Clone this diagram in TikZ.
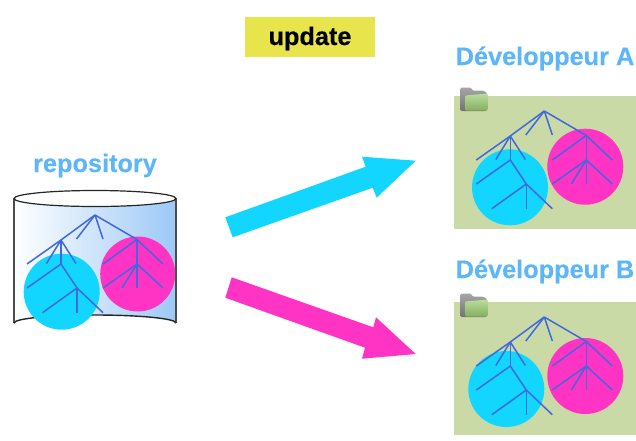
\documentclass[tikz,border=0pt]{standalone}
\usepackage{fontspec}
\setmainfont{Liberation Sans}
\definecolor{cy}{HTML}{12D6FF}
\definecolor{mg}{HTML}{FF33C4}
\definecolor{tr}{HTML}{4169DC}
\definecolor{lab}{HTML}{5DB6F7}
\definecolor{bgg}{HTML}{C9DAA6}
\definecolor{yel}{HTML}{E8E44C}
\definecolor{cylblue}{HTML}{9CC9F6}
\definecolor{fgreen}{HTML}{9CCE70}
\newcommand{\bigbold}{\fontsize{25.3}{28}\selectfont\bfseries\addfontfeature{FakeBold=0.2}}
\tikzset{
  x=1pt,y=-1pt,
  title/.style={font=\bigbold,text=lab,anchor=base,inner sep=0pt},
  branch/.style={draw=tr,line width=1.5pt},
  pane/.style={fill=bgg,draw=none},
  pics/gittree/.style={code={
    \coordinate (root) at (0,0);
    \coordinate (l) at (-34,25);
    \coordinate (r) at (42,24.5);
    \coordinate (l2) at (-34,49);
    \coordinate (l3) at (-18,73);
    \coordinate (r2) at (42,49);
    \draw[branch] (root) -- (l) -- (-68,49);
    \draw[branch] (root) -- (-18.5,24);
    \draw[branch] (root) -- (8,24);
    \draw[branch] (root) -- (r);
    \draw[branch] (l) -- (-48.5,48.5);
    \draw[branch] (l) -- (-19,48.5);
    \draw[branch] (l) -- (l2);
    \draw[branch] (l2) -- (-68,73);
    \draw[branch] (l2) -- (l3);
    \draw[branch] (l3) -- (-52.5,97.7);
    \draw[branch] (l3) -- (-18,97.7);
    \draw[branch] (l3) -- (8,97.7);
    \draw[branch] (r) -- (8,49);
    \draw[branch] (r) -- (68,49);
    \draw[branch] (r) -- (r2);
    \draw[branch] (r2) -- (8,73);
    \draw[branch] (r2) -- (27,73);
    \draw[branch] (r2) -- (42,73);
    \draw[branch] (r2) -- (68,73);
  }},
  pics/folder/.style={code={
    \shade[top color=gray!70,bottom color=gray!90!black,rounded corners=1pt] (0,0) -- (0,23.5) -- (26,23.5) -- (26,5) -- (22,3) -- (12,3) -- (10,0) -- cycle;
    \shade[top color=fgreen!70!white,bottom color=fgreen!85!black,rounded corners=1pt] (4.5,8) -- (27,6) -- (27,23) -- (4.5,23) -- cycle;
  }}
}
\begin{document}
\begin{tikzpicture}
\useasboundingbox (0,0) rectangle (636,440);
% update label
\fill[yel] (244.5,16.5) rectangle (375,56.5);
\node[font=\bigbold,anchor=base,inner sep=0pt] (upd) at (310,45) {update};
% titles
\node[title] (repo) at (95,172) {repository};
\node[title] (deva) at (545,65) {Développeur A};
\node[title] (devb) at (545,278) {Développeur B};
% repository cylinder
\shade[left color=white,right color=cylblue]
  (14,198.5) -- (14,323) arc[start angle=180,end angle=360,x radius=81,y radius=8] -- (176,198.5) arc[start angle=0,end angle=180,x radius=81,y radius=8] -- cycle;
\draw[black!70,line width=1.2pt] (14,198.5) -- (14,323);
\draw[black!70,line width=1.2pt] (176,198.5) -- (176,323);
\draw[black!85,line width=1.4pt] (14,323) arc[start angle=180,end angle=360,x radius=81,y radius=8];
\fill[white,opacity=0.55] (95,198.5) ellipse[x radius=81,y radius=8];
\draw[black!85,line width=1.2pt] (95,198.5) ellipse[x radius=81,y radius=8];
\fill[cy] (61.7,291.7) circle[radius=38];
\fill[mg] (137.7,274) circle[radius=37.5];
\pic (t0) at (95,215) {gittree};
% developer A
\fill[pane] (454,96) rectangle (636,229);
\pic (fa) at (460.7,87.5) {folder};
\fill[cy] (510,187.3) circle[radius=38];
\fill[mg] (585.3,166.7) circle[radius=38];
\pic (t1) at (544.3,111) {gittree};
% developer B
\fill[pane] (454,302) rectangle (636,435);
\pic (fb) at (460.7,293.5) {folder};
\fill[cy] (506.3,389) circle[radius=38];
\fill[mg] (585.3,376) circle[radius=38];
\pic (t2) at (544.3,317) {gittree};
% arrows
\fill[cy] (225.3,217.3) -- (365.7,166.7) -- (362,156.7) -- (415.7,160.7) -- (376.7,197.7) -- (372.7,187.7) -- (232.7,237.3) -- cycle;
\fill[mg] (231.7,277.3) -- (373.3,327.3) -- (376,317.3) -- (415.7,354) -- (362,358.7) -- (365,347.7) -- (225.3,297.7) -- cycle;
\end{tikzpicture}
\end{document}
